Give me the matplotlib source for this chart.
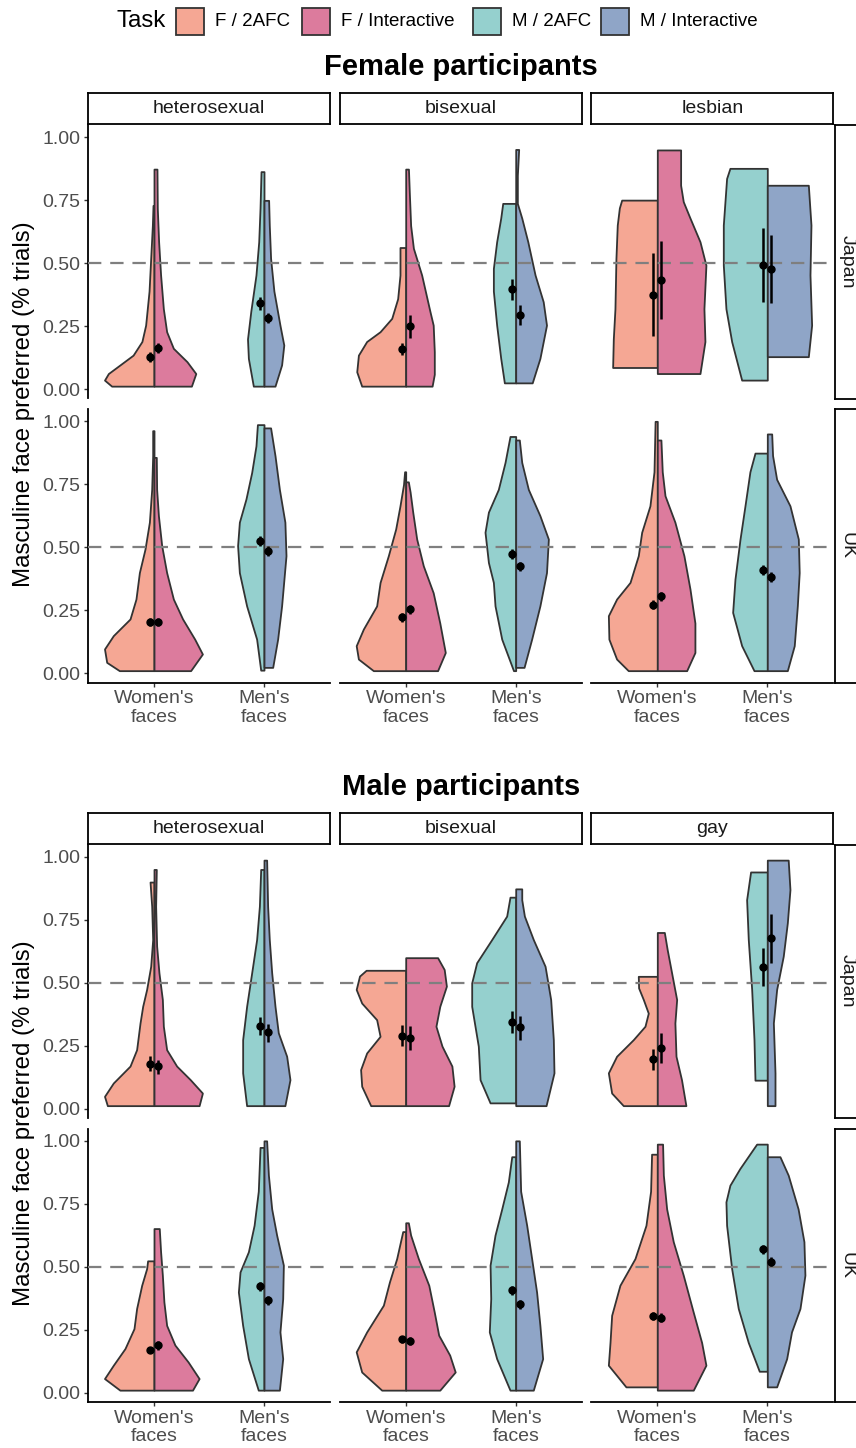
import numpy as np
import matplotlib
matplotlib.use("Agg")
import matplotlib.pyplot as plt
from matplotlib.patches import Rectangle

plt.rcParams['font.family'] = ['Liberation Sans', 'DejaVu Sans']

tasks = ['F / 2AFC', 'F / Interactive', 'M / 2AFC', 'M / Interactive']
task_colors = ['#F5A794', '#DC7B9D', '#95D0CE', '#8FA5C7']
face_labels = ["Women's\nfaces", "Men's\nfaces"]
countries = ['Japan', 'UK']
female_groups = ['heterosexual', 'bisexual', 'lesbian']
male_groups = ['heterosexual', 'bisexual', 'gay']

# violin outlines: (value, half width) pairs
# order in each list: F/2AFC, F/Interactive, M/2AFC, M/Interactive
female_japan = {
    'heterosexual': [
        [(0.013, 0.385), (0.037, 0.45), (0.063, 0.415), (0.097, 0.31), (0.136, 0.19), (0.19, 0.11), (0.255, 0.076), (0.39, 0.045), (0.52, 0.03), (0.65, 0.015), (0.73, 0.009)],
        [(0.013, 0.34), (0.063, 0.38), (0.11, 0.30), (0.163, 0.176), (0.229, 0.115), (0.32, 0.085), (0.454, 0.06), (0.586, 0.042), (0.718, 0.03), (0.874, 0.027)],
        [(0.013, 0.097), (0.123, 0.142), (0.2, 0.15), (0.31, 0.12), (0.454, 0.073), (0.586, 0.048), (0.72, 0.036), (0.864, 0.027)],
        [(0.013, 0.10), (0.097, 0.16), (0.176, 0.18), (0.255, 0.145), (0.39, 0.09), (0.52, 0.06), (0.652, 0.048), (0.75, 0.042)],
    ],
    'bisexual': [
        [(0.013, 0.40), (0.07, 0.445), (0.136, 0.43), (0.19, 0.355), (0.229, 0.233), (0.282, 0.127), (0.36, 0.073), (0.454, 0.052), (0.563, 0.052)],
        [(0.013, 0.24), (0.06, 0.26), (0.15, 0.26), (0.255, 0.25), (0.31, 0.22), (0.454, 0.145), (0.56, 0.07), (0.65, 0.045), (0.78, 0.033), (0.874, 0.025)],
        [(0.026, 0.103), (0.123, 0.136), (0.255, 0.173), (0.39, 0.203), (0.48, 0.203), (0.586, 0.173), (0.68, 0.136), (0.738, 0.118)],
        [(0.026, 0.15), (0.123, 0.22), (0.255, 0.28), (0.348, 0.25), (0.454, 0.176), (0.586, 0.11), (0.68, 0.055), (0.738, 0.015), (0.85, 0.015), (0.952, 0.027)],
    ],
    'lesbian': [
        [(0.087, 0.406), (0.2, 0.40), (0.32, 0.385), (0.52, 0.376), (0.652, 0.364), (0.72, 0.345), (0.751, 0.324)],
        [(0.063, 0.388), (0.19, 0.433), (0.32, 0.424), (0.493, 0.442), (0.586, 0.388), (0.68, 0.297), (0.745, 0.236), (0.81, 0.212), (0.95, 0.212)],
        [(0.037, 0.233), (0.19, 0.324), (0.32, 0.376), (0.493, 0.40), (0.652, 0.40), (0.837, 0.37), (0.877, 0.34)],
        [(0.13, 0.373), (0.255, 0.403), (0.454, 0.388), (0.652, 0.397), (0.81, 0.373)],
    ],
}
female_uk = {
    'heterosexual': [
        [(0.011, 0.315), (0.044, 0.43), (0.097, 0.45), (0.15, 0.37), (0.216, 0.218), (0.295, 0.164), (0.40, 0.133), (0.493, 0.082), (0.60, 0.042), (0.73, 0.021), (0.864, 0.012), (0.963, 0.012)],
        [(0.011, 0.333), (0.077, 0.44), (0.136, 0.37), (0.216, 0.26), (0.295, 0.176), (0.40, 0.115), (0.507, 0.07), (0.626, 0.04), (0.73, 0.024), (0.857, 0.021)],
        [(0.013, 0.03), (0.136, 0.067), (0.268, 0.158), (0.40, 0.224), (0.507, 0.24), (0.60, 0.224), (0.692, 0.164), (0.797, 0.112), (0.903, 0.073), (0.987, 0.06)],
        [(0.024, 0.079), (0.136, 0.124), (0.268, 0.16), (0.467, 0.20), (0.60, 0.19), (0.73, 0.14), (0.864, 0.10), (0.974, 0.06)],
    ],
    'bisexual': [
        [(0.011, 0.294), (0.057, 0.43), (0.11, 0.45), (0.176, 0.385), (0.268, 0.264), (0.361, 0.233), (0.467, 0.158), (0.573, 0.091), (0.665, 0.052), (0.749, 0.02), (0.80, 0.01)],
        [(0.011, 0.29), (0.083, 0.36), (0.2, 0.31), (0.32, 0.25), (0.427, 0.16), (0.533, 0.10), (0.64, 0.064), (0.72, 0.04), (0.76, 0.024)],
        [(0.011, 0.02), (0.136, 0.127), (0.268, 0.188), (0.361, 0.203), (0.44, 0.248), (0.56, 0.279), (0.64, 0.248), (0.73, 0.158), (0.837, 0.097), (0.94, 0.052)],
        [(0.024, 0.076), (0.136, 0.145), (0.268, 0.22), (0.40, 0.28), (0.533, 0.297), (0.626, 0.22), (0.73, 0.115), (0.837, 0.055), (0.926, 0.033)],
    ],
    'lesbian': [
        [(0.011, 0.264), (0.057, 0.37), (0.136, 0.44), (0.229, 0.445), (0.295, 0.37), (0.361, 0.248), (0.467, 0.173), (0.56, 0.142), (0.665, 0.067), (0.80, 0.03), (1.0, 0.02)],
        [(0.011, 0.267), (0.083, 0.342), (0.2, 0.342), (0.335, 0.297), (0.467, 0.242), (0.60, 0.16), (0.705, 0.07), (0.80, 0.045), (0.926, 0.033)],
        [(0.011, 0.121), (0.11, 0.233), (0.242, 0.315), (0.374, 0.294), (0.533, 0.248), (0.665, 0.203), (0.80, 0.158), (0.874, 0.112)],
        [(0.011, 0.182), (0.11, 0.245), (0.268, 0.273), (0.40, 0.29), (0.533, 0.282), (0.665, 0.206), (0.77, 0.085), (0.864, 0.048), (0.95, 0.04)],
    ],
}
male_japan = {
    'heterosexual': [
        [(0.013, 0.424), (0.05, 0.45), (0.103, 0.37), (0.17, 0.218), (0.235, 0.158), (0.341, 0.127), (0.407, 0.103), (0.474, 0.067), (0.566, 0.03), (0.672, 0.012), (0.804, 0.021), (0.90, 0.036)],
        [(0.013, 0.41), (0.063, 0.44), (0.116, 0.33), (0.17, 0.206), (0.235, 0.115), (0.328, 0.085), (0.434, 0.076), (0.54, 0.045), (0.646, 0.024), (0.804, 0.015), (0.95, 0.021)],
        [(0.013, 0.158), (0.143, 0.194), (0.275, 0.194), (0.407, 0.158), (0.54, 0.112), (0.672, 0.067), (0.804, 0.042), (0.95, 0.03)],
        [(0.013, 0.19), (0.116, 0.236), (0.209, 0.206), (0.302, 0.13), (0.407, 0.10), (0.54, 0.07), (0.672, 0.048), (0.804, 0.033), (0.987, 0.024)],
    ],
    'bisexual': [
        [(0.013, 0.318), (0.09, 0.40), (0.156, 0.41), (0.222, 0.355), (0.288, 0.233), (0.354, 0.264), (0.42, 0.40), (0.474, 0.45), (0.527, 0.42), (0.55, 0.36)],
        [(0.013, 0.39), (0.09, 0.44), (0.17, 0.42), (0.249, 0.33), (0.328, 0.275), (0.407, 0.31), (0.487, 0.37), (0.553, 0.35), (0.60, 0.29)],
        [(0.024, 0.233), (0.116, 0.324), (0.249, 0.34), (0.407, 0.40), (0.50, 0.40), (0.58, 0.355), (0.672, 0.218), (0.765, 0.082), (0.84, 0.052)],
        [(0.013, 0.276), (0.143, 0.348), (0.275, 0.342), (0.434, 0.318), (0.566, 0.267), (0.672, 0.16), (0.765, 0.079), (0.83, 0.055), (0.873, 0.055)],
    ],
    'gay': [
        [(0.013, 0.309), (0.063, 0.415), (0.143, 0.445), (0.209, 0.37), (0.275, 0.218), (0.328, 0.112), (0.38, 0.082), (0.434, 0.127), (0.48, 0.17), (0.526, 0.173)],
        [(0.013, 0.26), (0.116, 0.22), (0.209, 0.17), (0.341, 0.16), (0.434, 0.176), (0.54, 0.13), (0.632, 0.09), (0.70, 0.064)],
        [(0.114, 0.112), (0.275, 0.121), (0.474, 0.142), (0.672, 0.173), (0.83, 0.188), (0.94, 0.152)],
        [(0.013, 0.07), (0.143, 0.07), (0.341, 0.055), (0.474, 0.085), (0.606, 0.145), (0.738, 0.182), (0.87, 0.206), (0.987, 0.19)],
    ],
}
male_uk = {
    'heterosexual': [
        [(0.011, 0.31), (0.057, 0.45), (0.11, 0.37), (0.176, 0.264), (0.255, 0.182), (0.335, 0.158), (0.427, 0.112), (0.493, 0.067), (0.524, 0.058)],
        [(0.011, 0.35), (0.057, 0.41), (0.123, 0.31), (0.19, 0.19), (0.268, 0.115), (0.361, 0.09), (0.467, 0.076), (0.56, 0.06), (0.652, 0.048)],
        [(0.011, 0.052), (0.136, 0.142), (0.268, 0.194), (0.40, 0.233), (0.48, 0.218), (0.56, 0.142), (0.665, 0.09), (0.80, 0.052), (0.974, 0.036)],
        [(0.011, 0.14), (0.136, 0.17), (0.242, 0.145), (0.374, 0.17), (0.507, 0.176), (0.626, 0.115), (0.73, 0.07), (0.864, 0.04), (1.0, 0.024)],
    ],
    'bisexual': [
        [(0.011, 0.218), (0.083, 0.40), (0.163, 0.45), (0.242, 0.355), (0.348, 0.203), (0.44, 0.148), (0.533, 0.082), (0.64, 0.027)],
        [(0.011, 0.31), (0.083, 0.45), (0.15, 0.40), (0.229, 0.30), (0.32, 0.26), (0.427, 0.21), (0.533, 0.115), (0.626, 0.045), (0.675, 0.024)],
        [(0.011, 0.052), (0.136, 0.173), (0.242, 0.24), (0.374, 0.227), (0.507, 0.233), (0.626, 0.188), (0.73, 0.127), (0.837, 0.067), (0.937, 0.036)],
        [(0.011, 0.16), (0.136, 0.245), (0.268, 0.22), (0.40, 0.19), (0.533, 0.145), (0.665, 0.10), (0.80, 0.045), (1.0, 0.033)],
    ],
    'gay': [
        [(0.024, 0.285), (0.11, 0.445), (0.2, 0.43), (0.308, 0.415), (0.427, 0.34), (0.533, 0.203), (0.665, 0.103), (0.80, 0.061), (0.947, 0.052)],
        [(0.011, 0.327), (0.11, 0.442), (0.2, 0.403), (0.32, 0.327), (0.467, 0.236), (0.60, 0.145), (0.73, 0.085), (0.864, 0.055), (0.987, 0.048)],
        [(0.086, 0.073), (0.2, 0.173), (0.335, 0.264), (0.493, 0.324), (0.665, 0.37), (0.758, 0.376), (0.824, 0.34), (0.89, 0.25), (0.987, 0.097)],
        [(0.024, 0.085), (0.136, 0.176), (0.242, 0.22), (0.335, 0.297), (0.467, 0.342), (0.60, 0.333), (0.73, 0.28), (0.864, 0.19), (0.937, 0.115)],
    ],
}

# means with interval (mean, low, high), same task order
female_japan_means = {
    'heterosexual': [(0.13, 0.11, 0.15), (0.165, 0.146, 0.183), (0.341, 0.317, 0.368), (0.284, 0.262, 0.304)],
    'bisexual': [(0.16, 0.136, 0.183), (0.251, 0.205, 0.295), (0.398, 0.354, 0.44), (0.295, 0.255, 0.335)],
    'lesbian': [(0.374, 0.213, 0.54), (0.434, 0.279, 0.589), (0.493, 0.348, 0.64), (0.478, 0.341, 0.612)],
}
female_uk_means = {
    'heterosexual': [(0.205, 0.19, 0.22), (0.205, 0.19, 0.22), (0.527, 0.507, 0.547), (0.484, 0.464, 0.504)],
    'bisexual': [(0.222, 0.205, 0.24), (0.255, 0.237, 0.273), (0.474, 0.455, 0.493), (0.425, 0.407, 0.443)],
    'lesbian': [(0.272, 0.255, 0.29), (0.306, 0.287, 0.325), (0.41, 0.39, 0.43), (0.382, 0.362, 0.402)],
}
male_japan_means = {
    'heterosexual': [(0.18, 0.149, 0.209), (0.169, 0.14, 0.196), (0.328, 0.292, 0.364), (0.304, 0.264, 0.337)],
    'bisexual': [(0.291, 0.248, 0.334), (0.283, 0.235, 0.328), (0.344, 0.30, 0.39), (0.324, 0.275, 0.37)],
    'gay': [(0.198, 0.156, 0.238), (0.242, 0.182, 0.302), (0.562, 0.487, 0.639), (0.677, 0.58, 0.775)],
}
male_uk_means = {
    'heterosexual': [(0.172, 0.16, 0.184), (0.189, 0.172, 0.206), (0.423, 0.405, 0.441), (0.368, 0.35, 0.386)],
    'bisexual': [(0.213, 0.2, 0.226), (0.206, 0.192, 0.22), (0.407, 0.39, 0.424), (0.352, 0.334, 0.37)],
    'gay': [(0.304, 0.288, 0.32), (0.298, 0.28, 0.316), (0.569, 0.553, 0.585), (0.52, 0.502, 0.538)],
}

W, H = 856, 1448
fig = plt.figure(figsize=(W / 100, H / 100), dpi=100)


def box(x0, y0, w, h):
    return [x0 / W, 1 - (y0 + h) / H, w / W, h / H]


tick_gray = '#4D4D4D'
edge = '#333333'
col_left = [88, 339.7, 591.3]
col_w = 242
panel_h = 273.5


def draw_half(ax, pos, side, shape, color):
    v = np.array([p[0] for p in shape])
    w = np.array([p[1] for p in shape])
    if side < 0:
        ax.fill_betweenx(v, pos - w, pos, facecolor=color, edgecolor=edge, lw=1.3,
                         joinstyle='round', zorder=2)
    else:
        ax.fill_betweenx(v, pos, pos + w, facecolor=color, edgecolor=edge, lw=1.3,
                         joinstyle='round', zorder=2)


def draw_block(title, title_y, strip_y, row_tops, groups, shapes, means):
    fig.text(461 / W, 1 - title_y / H, title, ha='center', va='center',
             fontsize=21, fontweight='bold')
    for j, g in enumerate(groups):
        sax = fig.add_axes(box(col_left[j], strip_y, col_w, 31.5))
        sax.set_xticks([]); sax.set_yticks([])
        for s in sax.spines.values():
            s.set_linewidth(1.3)
        sax.text(0.5, 0.5, g, ha='center', va='center', fontsize=14, color='#1A1A1A',
                 transform=sax.transAxes)
    for i, c in enumerate(countries):
        top = row_tops[i]
        rax = fig.add_axes(box(834.5, top, 45, panel_h))
        rax.set_xticks([]); rax.set_yticks([])
        for s in rax.spines.values():
            s.set_linewidth(1.3)
        fig.text(847 / W, 1 - (top + panel_h / 2) / H, c, rotation=-90, ha='center',
                 va='center', fontsize=14, color='#1A1A1A')
        for j, g in enumerate(groups):
            ax = fig.add_axes(box(col_left[j], top, col_w, panel_h))
            ax.set_xlim(0.4, 2.6)
            ax.set_ylim(-0.036, 1.049)
            for k in range(4):
                pos = 1 if k < 2 else 2
                side = -1 if k % 2 == 0 else 1
                draw_half(ax, pos, side, shapes[i][g][k], task_colors[k])
            ax.axhline(0.5, color='#7F7F7F', lw=1.6, ls=(0, (6, 4)), zorder=3)
            for k in range(4):
                pos = (1 if k < 2 else 2) + (-0.037 if k % 2 == 0 else 0.037)
                m, lo, hi = means[i][g][k]
                ax.errorbar([pos], [m], yerr=[[m - lo], [hi - m]], fmt='o', color='black',
                            ms=5, elinewidth=1.8, capsize=0, zorder=4)
            ax.spines['top'].set_visible(False)
            ax.spines['right'].set_visible(False)
            ax.set_facecolor('none')
            ax.tick_params(colors='#333333', labelcolor=tick_gray, labelsize=14,
                           length=3, width=1.0, pad=2.5)
            if j == 0:
                ax.spines['left'].set_linewidth(1.3)
                ax.set_yticks([0, 0.25, 0.5, 0.75, 1.0])
                ax.set_yticklabels(['0.00', '0.25', '0.50', '0.75', '1.00'])
            else:
                ax.spines['left'].set_visible(False)
                ax.set_yticks([])
            if i == 1:
                ax.spines['bottom'].set_linewidth(1.3)
                ax.set_xticks([1, 2])
                ax.set_xticklabels(face_labels, linespacing=1.12)
            else:
                ax.spines['bottom'].set_visible(False)
                ax.set_xticks([])
    mid = (row_tops[0] + row_tops[1] + panel_h) / 2
    fig.text(24 / W, 1 - mid / H, 'Masculine face preferred (% trials)', rotation=90,
             ha='center', va='center', fontsize=17.3)


# legend
fig.text(116.5 / W, 1 - 21 / H, 'Task', ha='left', va='center', fontsize=17.3)
key_left = [176, 302, 473, 601]
for k, t in enumerate(tasks):
    fig.patches.append(Rectangle((key_left[k] / W, 1 - 35 / H), 28 / W, 27 / H,
                                 transform=fig.transFigure, facecolor=task_colors[k],
                                 edgecolor=edge, lw=1.3))
    fig.text((key_left[k] + 39) / W, 1 - 21 / H, t, ha='left', va='center', fontsize=13.5)

draw_block('Female participants', 67, 92.5, [125, 409], female_groups,
           [female_japan, female_uk], [female_japan_means, female_uk_means])
draw_block('Male participants', 787, 812.5, [844.5, 1128.5], male_groups,
           [male_japan, male_uk], [male_japan_means, male_uk_means])

fig.savefig('out.png', dpi=100)
